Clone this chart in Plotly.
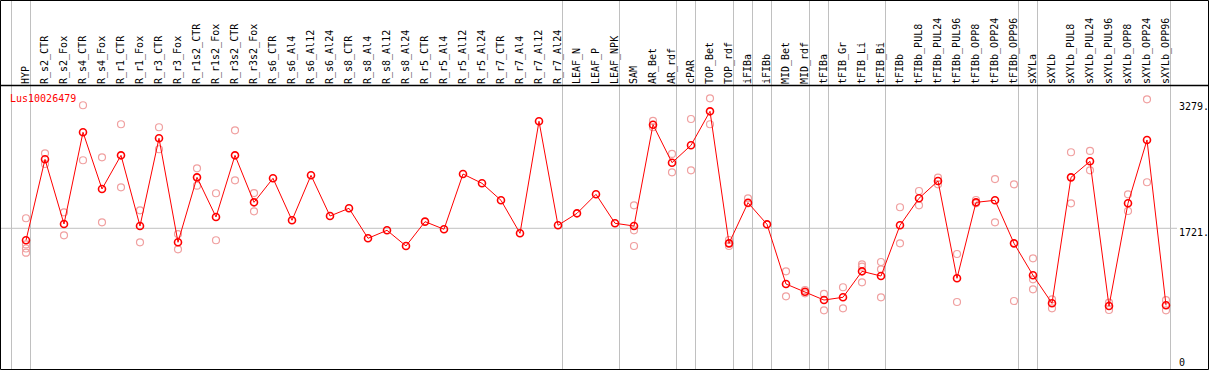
import plotly.graph_objects as go

categories = [
    "HYP", "R_s2_CTR", "R_s2_Fox", "R_s4_CTR", "R_s4_Fox", "R_r1_CTR", "R_r1_Fox",
    "R_r3_CTR", "R_r3_Fox", "R_r1s2_CTR", "R_r1s2_Fox", "R_r3s2_CTR", "R_r3s2_Fox",
    "R_s6_CTR", "R_s6_Al4", "R_s6_Al12", "R_s6_Al24", "R_s8_CTR", "R_s8_Al4",
    "R_s8_Al12", "R_s8_Al24", "R_r5_CTR", "R_r5_Al4", "R_r5_Al12", "R_r5_Al24",
    "R_r7_CTR", "R_r7_Al4", "R_r7_Al12", "R_r7_Al24", "LEAF_N", "LEAF_P", "LEAF_NPK",
    "SAM", "AR_Bet", "AR_rdf", "cPAR", "TOP_Bet", "TOP_rdf", "iFIBa", "iFIBb",
    "MID_Bet", "MID_rdf", "tFIBa", "tFIB_Gr", "tFIB_Li", "tFIB_Bi", "tFIBb",
    "tFIBb_PUL8", "tFIBb_PUL24", "tFIBb_PUL96", "tFIBb_OPP8", "tFIBb_OPP24",
    "tFIBb_OPP96", "sXYLa", "sXYLb", "sXYLb_PUL8", "sXYLb_PUL24", "sXYLb_PUL96",
    "sXYLb_OPP8", "sXYLb_OPP24", "sXYLb_OPP96",
]

means = [
    1573, 2574, 1774, 2908, 2207, 2623, 1749, 2834, 1548, 2351, 1861, 2623, 2042,
    2339, 1820, 2376, 1873, 1968, 1597, 1696, 1502, 1803, 1709, 2392, 2277,
    2067, 1659, 3044, 1758, 1906, 2141, 1783,
    1749, 3002, 2532, 2747, 3167, 1535, 2037, 1770,
    1032, 937, 834, 868, 1189, 1131, 1758,
    2092, 2306, 1103, 2042, 2067, 1535,
    1140, 794, 2351, 2549, 760, 2030, 2813, 769,
]

replicates = [
    [1845, 1521, 1471, 1419], [2648, 2516], [1919, 1634], [3242, 2562], [2599, 1795],
    [3007, 2228], [1943, 1548], [2970, 2698], [1650, 1461], [2463, 2248],
    [2154, 1573], [2932, 2314], [2157, 1931],
    [], [], [], [], [], [], [], [], [], [], [], [], [], [], [], [], [], [], [],
    [2005, 1696, 1502], [3048, 2970], [2640, 2413], [3072, 2438], [3328, 3007],
    [1576, 1502], [2092, 2030], [],
    [1189, 880], [958, 917], [909, 707], [992, 732], [1276, 1246, 1053],
    [1304, 1214, 868], [1981, 1535],
    [2182, 2005], [2347, 2265], [1403, 810], [2071, 2030], [2330, 1795], [2265, 822],
    [1350, 1090, 967], [843, 732], [2661, 2030], [2677, 2438], [801, 711],
    [2141, 1935], [3316, 2290], [834, 707],
]

separator_after = [
    "HYP", "R_r7_Al24", "LEAF_NPK", "AR_rdf", "cPAR", "TOP_rdf", "iFIBa", "iFIBb",
    "MID_rdf", "tFIBa", "tFIB_Bi", "tFIBb_OPP96", "sXYLa", "sXYLb_OPP96",
]

gene_name = "Lus10026479"
scale_values = [3279, 1721]
scale_texts = ["3279.", "1721."]
zero_text = "0"

# ---- geometry (pixels) ----
W, H = 1209, 370
TOP, BOT, LEFT, RIGHT = 85, 1, 1, 1
plot_w = W - LEFT - RIGHT
plot_h = H - TOP - BOT
step = 19.0
first_px = 26.0
x_lo = (LEFT - first_px) / step
x_hi = x_lo + plot_w / step
px_per_unit = 12.363
y_lo = -(H - BOT - 367.5) * px_per_unit
y_hi = y_lo + plot_h * px_per_unit
sep_off = 4.5 / step

def px_to_paper_x(px):
    return (px - LEFT) / plot_w

def py_to_paper_y(py):
    return (H - BOT - py) / plot_h

idx = list(range(len(categories)))
rep_x, rep_y = [], []
for i, reps in enumerate(replicates):
    for v in reps:
        rep_x.append(i)
        rep_y.append(v)

mono = "DejaVu Sans Mono"

fig = go.Figure()
fig.add_trace(go.Scatter(
    x=rep_x, y=rep_y, mode="markers",
    marker=dict(symbol="circle-open", size=7, color="#F0A0A0", line=dict(width=1.2, color="#F0A0A0")),
    hoverinfo="skip", showlegend=False,
))
fig.add_trace(go.Scatter(
    x=idx, y=means, mode="lines+markers",
    line=dict(color="#FF0000", width=1),
    marker=dict(symbol="circle-open", size=7, color="#FF0000", line=dict(width=1.6, color="#FF0000")),
    showlegend=False,
))

shapes = []
sep_positions = [-1] + [categories.index(n) for n in separator_after]
for p in sep_positions:
    shapes.append(dict(type="line", xref="x", yref="paper", x0=p + sep_off, x1=p + sep_off,
                       y0=0, y1=py_to_paper_y(0.5), line=dict(color="#C0C0C0", width=1), layer="below"))
shapes.append(dict(type="line", xref="paper", yref="y", x0=0, x1=px_to_paper_x(1177),
                   y0=scale_values[1], y1=scale_values[1], line=dict(color="#C0C0C0", width=1), layer="below"))
shapes.append(dict(type="rect", xref="paper", yref="paper",
                   x0=px_to_paper_x(0.5), x1=px_to_paper_x(1208.5),
                   y0=py_to_paper_y(369.5), y1=py_to_paper_y(0.5),
                   line=dict(color="black", width=1)))
shapes.append(dict(type="line", xref="paper", yref="paper", x0=px_to_paper_x(0.5), x1=px_to_paper_x(1208.5),
                   y0=py_to_paper_y(85.5), y1=py_to_paper_y(85.5), line=dict(color="black", width=1.5)))

annotations = [
    dict(text=gene_name, xref="paper", yref="paper", x=px_to_paper_x(8), y=py_to_paper_y(91),
         xanchor="left", yanchor="top", showarrow=False, font=dict(family=mono, size=10, color="#FF0000")),
]
for v, t in zip(scale_values, scale_texts):
    annotations.append(dict(text=t, xref="paper", yref="y", x=px_to_paper_x(1177), y=v,
                            xanchor="left", yanchor="middle", yshift=-4.5, showarrow=False,
                            font=dict(family=mono, size=10, color="black")))
annotations.append(dict(text=zero_text, xref="paper", yref="y", x=px_to_paper_x(1177), y=0,
                        xanchor="left", yanchor="middle", yshift=5.5, showarrow=False,
                        font=dict(family=mono, size=10, color="black")))

fig.update_layout(
    width=W, height=H,
    margin=dict(l=LEFT, r=RIGHT, t=TOP, b=BOT, pad=0),
    paper_bgcolor="white", plot_bgcolor="white",
    shapes=shapes, annotations=annotations,
    xaxis=dict(range=[x_lo, x_hi], tickmode="array", tickvals=idx, ticktext=categories,
               side="top", tickangle=-90, ticks="", showgrid=False, zeroline=False,
               showline=False, tickfont=dict(family=mono, size=10, color="black"),
               fixedrange=True),
    yaxis=dict(range=[y_lo, y_hi], showticklabels=False, ticks="", showgrid=False,
               zeroline=False, showline=False, fixedrange=True),
    hovermode=False,
)

fig.write_html(
    "out.html",
    config={"displayModeBar": False},
    post_script="document.body.style.margin='0';document.body.style.padding='0';document.body.style.overflow='hidden';",
)
